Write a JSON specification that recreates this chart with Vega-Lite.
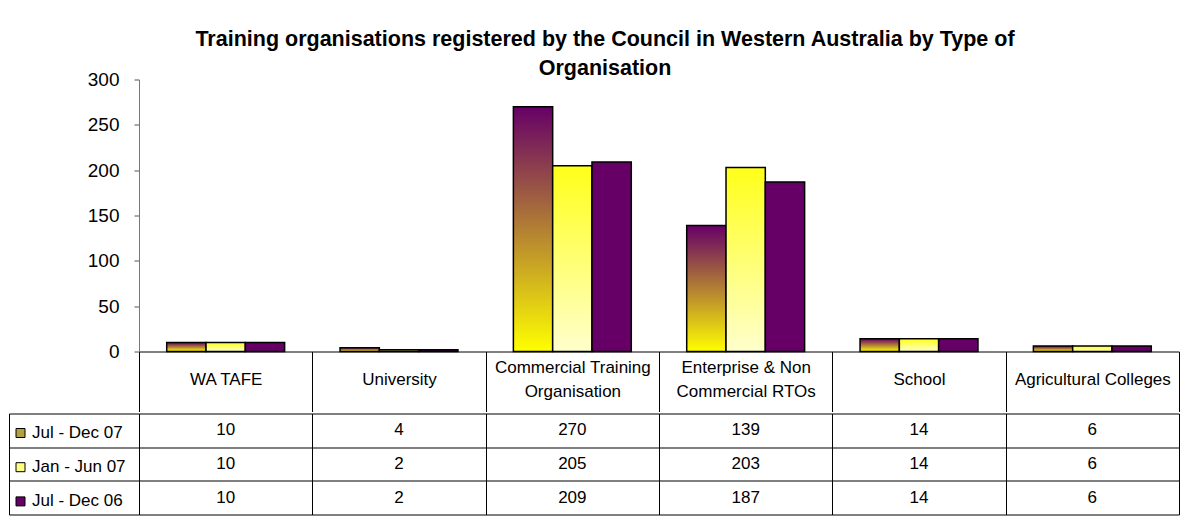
{
  "$schema": "https://vega.github.io/schema/vega-lite/v6.json",
  "padding": {"left": 8, "top": 28.5, "right": 0, "bottom": 0},
  "autosize": {"type": "pad"},
  "background": "white",
  "spacing": 0,
  "config": {
    "view": {"stroke": null},
    "font": "Liberation Sans",
    "axis": {"labelFont": "Liberation Sans"},
    "legend": {"labelFont": "Liberation Sans"},
    "title": {"font": "Liberation Sans"},
    "text": {"font": "Liberation Sans"}
  },
  "resolve": {"scale": {"color": "independent"}, "legend": {"color": "independent"}},
  "datasets": {
    "orgs": [
      {"category": "WA TAFE", "period": "Jul - Dec 07", "count": 10},
      {"category": "WA TAFE", "period": "Jan - Jun 07", "count": 10},
      {"category": "WA TAFE", "period": "Jul - Dec 06", "count": 10},
      {"category": "University", "period": "Jul - Dec 07", "count": 4},
      {"category": "University", "period": "Jan - Jun 07", "count": 2},
      {"category": "University", "period": "Jul - Dec 06", "count": 2},
      {"category": "Commercial Training Organisation", "period": "Jul - Dec 07", "count": 270},
      {"category": "Commercial Training Organisation", "period": "Jan - Jun 07", "count": 205},
      {"category": "Commercial Training Organisation", "period": "Jul - Dec 06", "count": 209},
      {"category": "Enterprise & Non Commercial RTOs", "period": "Jul - Dec 07", "count": 139},
      {"category": "Enterprise & Non Commercial RTOs", "period": "Jan - Jun 07", "count": 203},
      {"category": "Enterprise & Non Commercial RTOs", "period": "Jul - Dec 06", "count": 187},
      {"category": "School", "period": "Jul - Dec 07", "count": 14},
      {"category": "School", "period": "Jan - Jun 07", "count": 14},
      {"category": "School", "period": "Jul - Dec 06", "count": 14},
      {"category": "Agricultural Colleges", "period": "Jul - Dec 07", "count": 6},
      {"category": "Agricultural Colleges", "period": "Jan - Jun 07", "count": 6},
      {"category": "Agricultural Colleges", "period": "Jul - Dec 06", "count": 6}
    ]
  },
  "vconcat": [
    {
      "width": 1040,
      "height": 272,
      "data": {"name": "orgs"},
      "title": {
        "text": ["Training organisations registered by the Council in Western Australia by Type of", "Organisation"],
        "fontSize": 21.5,
        "fontWeight": "bold",
        "color": "black",
        "lineHeight": 29,
        "anchor": "middle",
        "frame": "group",
        "dx": -54,
        "offset": -9
      },
      "encoding": {
        "x": {
          "field": "category",
          "type": "nominal",
          "sort": ["WA TAFE", "University", "Commercial Training Organisation", "Enterprise & Non Commercial RTOs", "School", "Agricultural Colleges"],
          "scale": {"paddingInner": 0, "paddingOuter": 0},
          "axis": {
            "title": null,
            "labelAngle": 0,
            "grid": false,
            "domain": true,
            "domainColor": "black",
            "tickBand": "extent",
            "tickSize": 60,
            "tickColor": "black",
            "labelFontSize": 17,
            "labelColor": "black",
            "labelPadding": {
              "condition": {"test": "datum.value == 'Commercial Training Organisation' || datum.value == 'Enterprise & Non Commercial RTOs'", "value": -44.5},
              "value": -32
            },
            "labelBaseline": "middle",
            "labelLineHeight": 24.5,
            "labelLimit": 0,
            "labelExpr": "datum.label == 'Commercial Training Organisation' ? ['Commercial Training', 'Organisation'] : datum.label == 'Enterprise & Non Commercial RTOs' ? ['Enterprise & Non', 'Commercial RTOs'] : datum.label"
          }
        },
        "xOffset": {
          "field": "period",
          "type": "nominal",
          "scale": {"domain": ["Jul - Dec 07", "Jan - Jun 07", "Jul - Dec 06"], "paddingInner": 0, "paddingOuter": 0.705}
        },
        "y": {
          "field": "count",
          "type": "quantitative",
          "scale": {"domain": [0, 300], "nice": false},
          "axis": {
            "title": null,
            "values": [0, 50, 100, 150, 200, 250, 300],
            "grid": false,
            "tickSize": 5,
            "tickColor": "#555555",
            "domainColor": "#777777",
            "labelFontSize": 19,
            "labelColor": "black",
            "labelPadding": 15,
            "minExtent": 130,
            "maxExtent": 130
          }
        }
      },
      "layer": [
        {
          "transform": [{"filter": "datum.period === 'Jul - Dec 07'"}],
          "mark": {
            "type": "bar",
            "stroke": "black",
            "strokeWidth": 1.5,
            "fill": {"gradient": "linear", "x1": 0, "y1": 0, "x2": 0, "y2": 1, "stops": [{"offset": 0, "color": "#660066"}, {"offset": 1, "color": "#ffff00"}]}
          }
        },
        {
          "transform": [{"filter": "datum.period === 'Jan - Jun 07'"}],
          "mark": {
            "type": "bar",
            "stroke": "black",
            "strokeWidth": 1.5,
            "fill": {"gradient": "linear", "x1": 0, "y1": 0, "x2": 0, "y2": 1, "stops": [{"offset": 0, "color": "#ffff1a"}, {"offset": 1, "color": "#ffffcc"}]}
          }
        },
        {
          "transform": [{"filter": "datum.period === 'Jul - Dec 06'"}],
          "mark": {"type": "bar", "stroke": "black", "strokeWidth": 1.5, "fill": "#660066"}
        }
      ]
    },
    {
      "width": 1040,
      "height": 101,
      "data": {"name": "orgs"},
      "encoding": {
        "x": {
          "field": "category",
          "type": "nominal",
          "sort": ["WA TAFE", "University", "Commercial Training Organisation", "Enterprise & Non Commercial RTOs", "School", "Agricultural Colleges"],
          "axis": {
            "title": null,
            "labels": false,
            "ticks": false,
            "domain": false,
            "grid": true,
            "tickBand": "extent",
            "gridColor": "black",
            "gridOpacity": 1
          }
        },
        "y": {
          "field": "period",
          "type": "nominal",
          "sort": ["Jul - Dec 07", "Jan - Jun 07", "Jul - Dec 06"],
          "axis": {
            "title": null,
            "labels": false,
            "offset": 130,
            "tickSize": -130,
            "tickBand": "extent",
            "tickColor": "black",
            "domain": true,
            "domainColor": "black",
            "grid": true,
            "gridColor": "black",
            "gridOpacity": 1,
            "minExtent": 0,
            "maxExtent": 0
          }
        }
      },
      "layer": [
        {
          "mark": {"type": "text", "fontSize": 17, "color": "black"},
          "encoding": {"text": {"field": "count", "type": "quantitative"}}
        },
        {
          "mark": {"type": "square", "opacity": 0},
          "encoding": {
            "color": {
              "field": "period",
              "type": "nominal",
              "scale": {"domain": ["Jul - Dec 07", "Jan - Jun 07", "Jul - Dec 06"], "range": ["#b3a040", "#ffff80", "#660066"]},
              "legend": {
                "title": null,
                "orient": "none",
                "legendX": -127,
                "legendY": 11,
                "symbolType": "square",
                "symbolSize": 81,
                "symbolStrokeColor": "black",
                "symbolStrokeWidth": 1,
                "symbolOpacity": 1,
                "labelFontSize": 17,
                "labelColor": "black",
                "labelOffset": 3,
                "rowPadding": 16.2,
                "padding": 0
              }
            }
          }
        }
      ]
    }
  ]
}
